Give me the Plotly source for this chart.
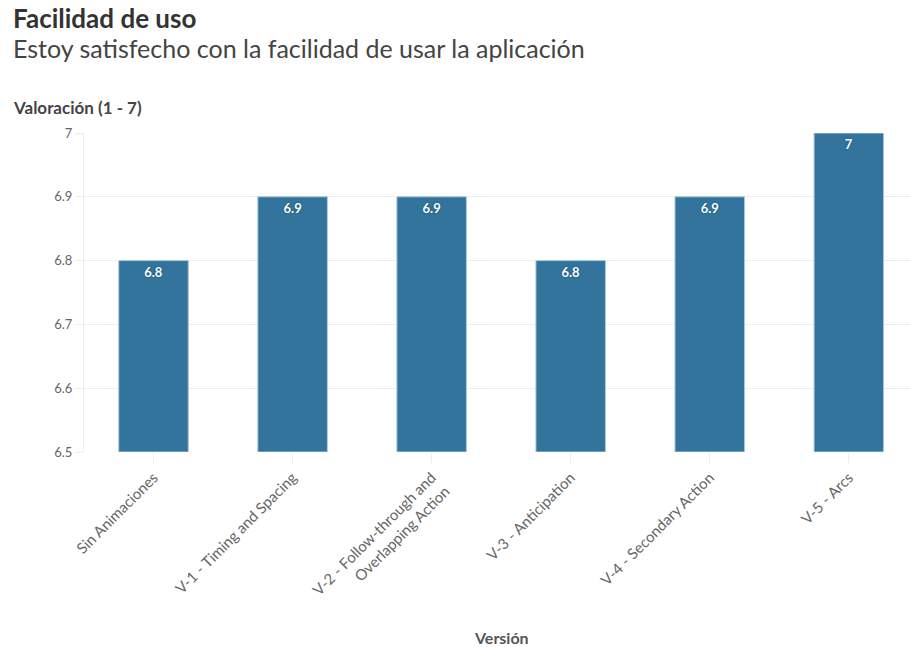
import plotly.graph_objects as go

# Datos
versiones = [
    "Sin Animaciones",
    "V-1 - Timing and Spacing",
    "V-2 - Follow-through and<br>Overlapping Action",
    "V-3 - Anticipation",
    "V-4 - Secondary Action",
    "V-5 - Arcs",
]
valoracion = [6.8, 6.9, 6.9, 6.8, 6.9, 7.0]
etiquetas = ["6.8", "6.9", "6.9", "6.8", "6.9", "7"]
y_ticks = [6.5, 6.6, 6.7, 6.8, 6.9, 7.0]
y_tick_text = ["6.5", "6.6", "6.7", "6.8", "6.9", "7"]
BASE = 6.5

FONT = "Lato, 'Source Sans Pro', sans-serif"
BAR = "#32749c"
GRID = "#ededed"

fig = go.Figure(
    go.Bar(
        x=list(range(len(versiones))),
        y=[v - BASE for v in valoracion],
        base=BASE,
        width=0.5,
        text=etiquetas,
        textposition="inside",
        insidetextanchor="end",
        textangle=0,
        textfont=dict(family=FONT, size=13, color="white", weight="bold",
                      shadow="0px 0px 2px #1d4a66"),
        marker=dict(color=BAR, line=dict(color="#a9c9dd", width=1)),
        hoverinfo="skip",
    )
)

fig.update_layout(
    width=910,
    height=647,
    margin=dict(l=84, r=0, t=133, b=195),
    paper_bgcolor="white",
    plot_bgcolor="white",
    showlegend=False,
    font=dict(family=FONT, color="#555555"),
    xaxis=dict(
        range=[-0.5, 5.44],
        tickmode="array",
        tickvals=list(range(len(versiones))),
        ticktext=versiones,
        tickangle=-45,
        tickfont=dict(size=15, color="#666666"),
        ticks="outside",
        ticklen=10,
        tickcolor=GRID,
        showgrid=False,
        showline=False,
        zeroline=False,
        automargin=False,
    ),
    yaxis=dict(
        range=[6.5, 7.0],
        tickmode="array",
        tickvals=y_ticks,
        ticktext=y_tick_text,
        tickfont=dict(size=13, color="#666666"),
        ticks="outside",
        ticklen=8,
        tickcolor=GRID,
        showgrid=True,
        gridcolor=GRID,
        showline=True,
        linecolor=GRID,
        zeroline=False,
        automargin=False,
    ),
)

# Títulos en coordenadas de píxel convertidas a fracciones del área de trazado
H, W = 647, 910
def px(x, y):
    return dict(x=(x - 84) / (W - 84), y=(H - 195 - y) / (H - 133 - 195))

texts = [
    ("<b>Facilidad de uso</b>", 11, 18, 26, "#333333", "left"),
    ("Estoy satisfecho con la facilidad de usar la aplicación", 11, 48, 25, "#444444", "left"),
    ("<b>Valoración (1 - 7)</b>", 11, 108, 17, "#444444", "left"),
    ("<b>Versión</b>", 501, 637, 16, "#555555", "center"),
]
for t, x, y, s, c, anchor in texts:
    p = px(x, y)
    fig.add_annotation(text=t, x=p["x"], y=p["y"], xref="paper", yref="paper",
                       xanchor=anchor, yanchor="middle", showarrow=False,
                       font=dict(family=FONT, size=s, color=c))

fig.write_html("out.html")
